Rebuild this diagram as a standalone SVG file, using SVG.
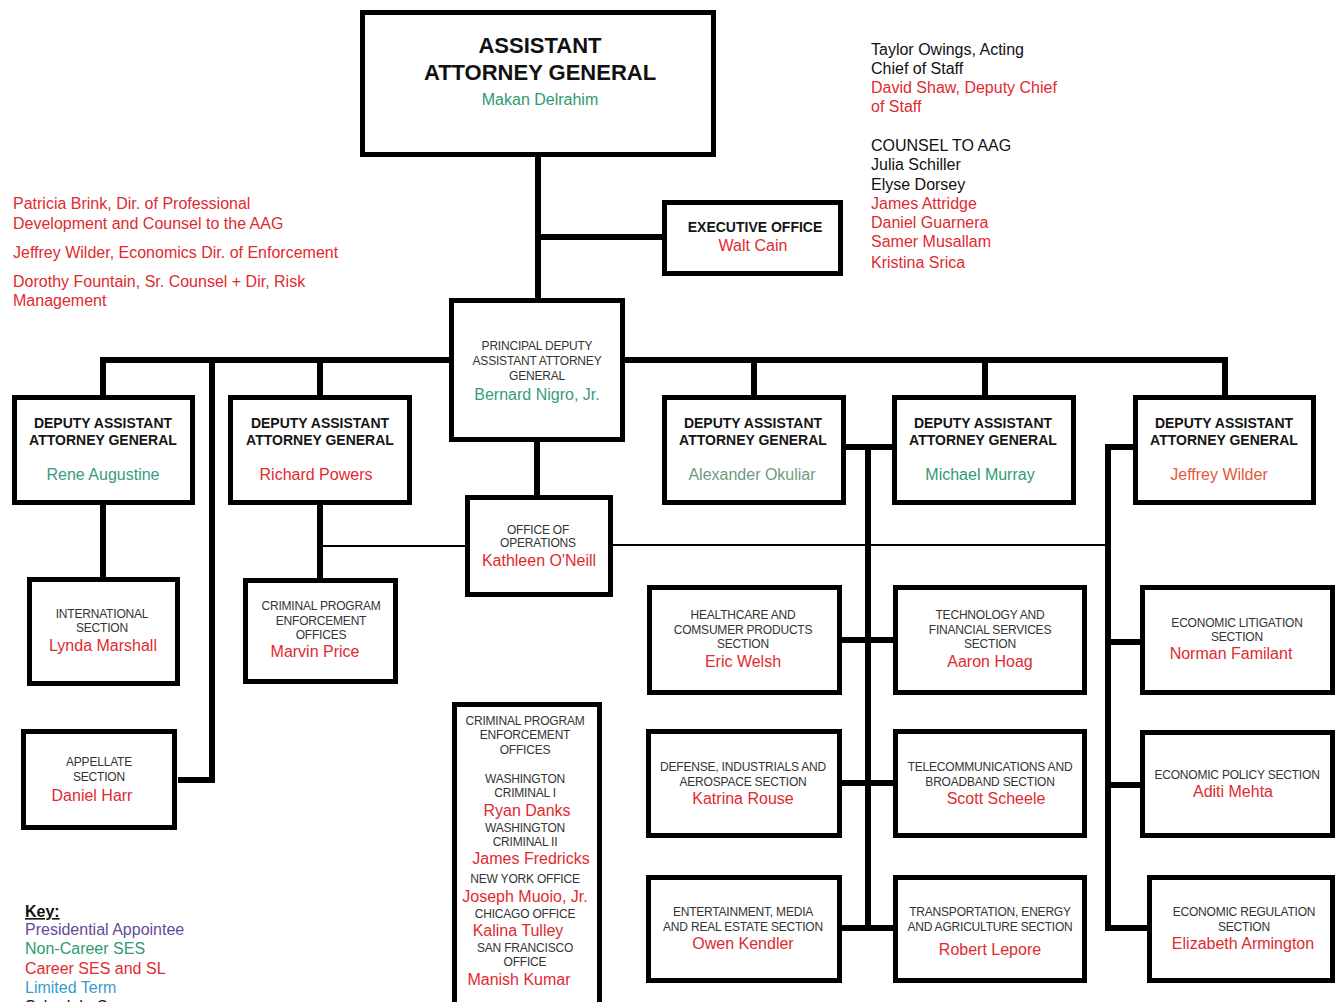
<svg xmlns="http://www.w3.org/2000/svg" width="1337" height="1002" viewBox="0 0 1337 1002">
  <style>
    .box { fill: #fff; stroke: #000; stroke-width: 5; }
    .wire { fill: none; stroke: #000; stroke-width: 6; stroke-linejoin: miter; }
    .thin { fill: none; stroke: #000; stroke-width: 2; }
    text { font-family: "Liberation Sans", Arial, sans-serif; }
    .title { font-size: 22px; font-weight: bold; fill: #111; text-anchor: middle; }
    .cap { font-size: 14px; font-weight: bold; fill: #151515; text-anchor: middle; }
    .sm { font-size: 12px; fill: #333; text-anchor: middle; letter-spacing: -0.2px; }
    .nm { font-size: 16px; text-anchor: middle; }
    .note { font-size: 16px; fill: #111; }
    .red { fill: #df2a30; }
    .grn { fill: #2f9a70; }
    .teal { fill: #3a9a80; }
    .sage { fill: #6e9a80; }
    .orng { fill: #e05a38; }
    .purp { fill: #654a9c; }
    .blue { fill: #3a9bd0; }
  </style>

  <rect width="1337" height="1002" fill="#fff"/>

  <!-- connectors -->
  <g id="connectors">
    <path class="wire" d="M538 157 V298"/>
    <path class="wire" d="M538 237 H662"/>
    <path class="wire" d="M103 395 V360 H449"/>
    <path class="wire" d="M320 360 V395"/>
    <path class="wire" d="M212 360 V780 H178"/>
    <path class="wire" d="M625 360 H1225 V395"/>
    <path class="wire" d="M754 360 V395"/>
    <path class="wire" d="M985 360 V395"/>
    <path class="wire" d="M537 442 V495"/>
    <path class="wire" d="M103 505 V577"/>
    <path class="wire" d="M320 505 V578"/>
    <path class="thin" d="M320 546 H465"/>
    <path class="thin" d="M613 545 H1108"/>
    <path class="wire" d="M846 447 H892"/>
    <path class="wire" d="M868 447 V928"/>
    <path class="wire" d="M842 640 H893"/>
    <path class="wire" d="M842 783 H893"/>
    <path class="wire" d="M842 928 H893"/>
    <path class="wire" d="M1133 447 H1108 V928 H1147"/>
    <path class="wire" d="M1108 642 H1140"/>
    <path class="wire" d="M1108 785 H1140"/>
  </g>

  <!-- top-level office -->
  <g id="aag">
    <rect class="box" x="362.5" y="12.5" width="351" height="142"/>
    <text class="title" x="540" y="53">ASSISTANT</text>
    <text class="title" x="540" y="80">ATTORNEY GENERAL</text>
    <text class="nm grn" x="540" y="105" font-size="20">Makan Delrahim</text>
  </g>

  <g id="executive-office">
    <rect class="box" x="664.5" y="202.5" width="176" height="71"/>
    <text class="cap" x="755" y="232">EXECUTIVE OFFICE</text>
    <text class="nm red" x="753" y="251">Walt Cain</text>
  </g>

  <g id="pdaag">
    <rect class="box" x="451.5" y="300.5" width="171" height="139"/>
    <text class="sm" x="537" y="350">PRINCIPAL DEPUTY</text>
    <text class="sm" x="537" y="365">ASSISTANT ATTORNEY</text>
    <text class="sm" x="537" y="380">GENERAL</text>
    <text class="nm teal" x="537" y="400" font-size="15">Bernard Nigro, Jr.</text>
  </g>

  <g id="office-of-operations">
    <rect class="box" x="467.5" y="497.5" width="143" height="97"/>
    <text class="sm" x="538" y="534">OFFICE OF</text>
    <text class="sm" x="538" y="547">OPERATIONS</text>
    <text class="nm red" x="539" y="566">Kathleen O'Neill</text>
  </g>

  <!-- deputy assistant attorneys general -->
  <g id="daag-augustine">
    <rect class="box" x="14.5" y="397.5" width="178" height="105"/>
    <text class="cap" x="103" y="428">DEPUTY ASSISTANT</text>
    <text class="cap" x="103" y="445">ATTORNEY GENERAL</text>
    <text class="nm teal" x="103" y="480">Rene Augustine</text>
  </g>
  <g id="daag-powers">
    <rect class="box" x="230.5" y="397.5" width="179" height="105"/>
    <text class="cap" x="320" y="428">DEPUTY ASSISTANT</text>
    <text class="cap" x="320" y="445">ATTORNEY GENERAL</text>
    <text class="nm red" x="316" y="480">Richard Powers</text>
  </g>
  <g id="daag-okuliar">
    <rect class="box" x="664.5" y="397.5" width="179" height="105"/>
    <text class="cap" x="753" y="428">DEPUTY ASSISTANT</text>
    <text class="cap" x="753" y="445">ATTORNEY GENERAL</text>
    <text class="nm sage" x="752" y="480">Alexander Okuliar</text>
  </g>
  <g id="daag-murray">
    <rect class="box" x="894.5" y="397.5" width="179" height="105"/>
    <text class="cap" x="983" y="428">DEPUTY ASSISTANT</text>
    <text class="cap" x="983" y="445">ATTORNEY GENERAL</text>
    <text class="nm grn" x="980" y="480">Michael Murray</text>
  </g>
  <g id="daag-wilder">
    <rect class="box" x="1135.5" y="397.5" width="178" height="105"/>
    <text class="cap" x="1224" y="428">DEPUTY ASSISTANT</text>
    <text class="cap" x="1224" y="445">ATTORNEY GENERAL</text>
    <text class="nm orng" x="1219" y="480">Jeffrey Wilder</text>
  </g>

  <!-- sections -->
  <g id="international">
    <rect class="box" x="29.5" y="579.5" width="148" height="104"/>
    <text class="sm" x="102" y="618">INTERNATIONAL</text>
    <text class="sm" x="102" y="632">SECTION</text>
    <text class="nm red" x="103" y="651">Lynda Marshall</text>
  </g>
  <g id="cpeo-price">
    <rect class="box" x="245.5" y="580.5" width="150" height="101"/>
    <text class="sm" x="321" y="610">CRIMINAL PROGRAM</text>
    <text class="sm" x="321" y="625">ENFORCEMENT</text>
    <text class="sm" x="321" y="639">OFFICES</text>
    <text class="nm red" x="315" y="657">Marvin Price</text>
  </g>
  <g id="appellate">
    <rect class="box" x="23.5" y="731.5" width="151" height="96"/>
    <text class="sm" x="99" y="766">APPELLATE</text>
    <text class="sm" x="99" y="781">SECTION</text>
    <text class="nm red" x="92" y="801">Daniel Harr</text>
  </g>

  <g id="cpeo-offices">
    <rect class="box" x="454.5" y="704.5" width="145" height="312"/>
    <text class="sm" x="525" y="725">CRIMINAL PROGRAM</text>
    <text class="sm" x="525" y="739">ENFORCEMENT</text>
    <text class="sm" x="525" y="754">OFFICES</text>
    <text class="sm" x="525" y="783">WASHINGTON</text>
    <text class="sm" x="525" y="797">CRIMINAL I</text>
    <text class="nm red" x="527" y="816">Ryan Danks</text>
    <text class="sm" x="525" y="832">WASHINGTON</text>
    <text class="sm" x="525" y="846">CRIMINAL II</text>
    <text class="nm red" x="531" y="864">James Fredricks</text>
    <text class="sm" x="525" y="883">NEW YORK OFFICE</text>
    <text class="nm red" x="525" y="902">Joseph Muoio, Jr.</text>
    <text class="sm" x="525" y="918">CHICAGO OFFICE</text>
    <text class="nm red" x="518" y="936">Kalina Tulley</text>
    <text class="sm" x="525" y="952">SAN FRANCISCO</text>
    <text class="sm" x="525" y="966">OFFICE</text>
    <text class="nm red" x="519" y="985">Manish Kumar</text>
  </g>

  <g id="healthcare">
    <rect class="box" x="649.5" y="587.5" width="190" height="105"/>
    <text class="sm" x="743" y="619">HEALTHCARE AND</text>
    <text class="sm" x="743" y="634">COMSUMER PRODUCTS</text>
    <text class="sm" x="743" y="648">SECTION</text>
    <text class="nm red" x="743" y="667">Eric Welsh</text>
  </g>
  <g id="technology">
    <rect class="box" x="895.5" y="587.5" width="189" height="105"/>
    <text class="sm" x="990" y="619">TECHNOLOGY AND</text>
    <text class="sm" x="990" y="634">FINANCIAL SERVICES</text>
    <text class="sm" x="990" y="648">SECTION</text>
    <text class="nm red" x="990" y="667">Aaron Hoag</text>
  </g>
  <g id="defense">
    <rect class="box" x="648.5" y="731.5" width="191" height="104"/>
    <text class="sm" x="743" y="771">DEFENSE, INDUSTRIALS AND</text>
    <text class="sm" x="743" y="786">AEROSPACE SECTION</text>
    <text class="nm red" x="743" y="804">Katrina Rouse</text>
  </g>
  <g id="telecom">
    <rect class="box" x="895.5" y="731.5" width="189" height="104"/>
    <text class="sm" x="990" y="771">TELECOMMUNICATIONS AND</text>
    <text class="sm" x="990" y="786">BROADBAND SECTION</text>
    <text class="nm red" x="996" y="804">Scott Scheele</text>
  </g>
  <g id="entertainment">
    <rect class="box" x="648.5" y="877.5" width="191" height="103"/>
    <text class="sm" x="743" y="916">ENTERTAINMENT, MEDIA</text>
    <text class="sm" x="743" y="931">AND REAL ESTATE SECTION</text>
    <text class="nm red" x="743" y="949">Owen Kendler</text>
  </g>
  <g id="transportation">
    <rect class="box" x="895.5" y="877.5" width="189" height="103"/>
    <text class="sm" x="990" y="916">TRANSPORTATION, ENERGY</text>
    <text class="sm" x="990" y="931">AND AGRICULTURE SECTION</text>
    <text class="nm red" x="990" y="955">Robert Lepore</text>
  </g>
  <g id="economic-litigation">
    <rect class="box" x="1142.5" y="587.5" width="190" height="105"/>
    <text class="sm" x="1237" y="627">ECONOMIC LITIGATION</text>
    <text class="sm" x="1237" y="641">SECTION</text>
    <text class="nm red" x="1231" y="659">Norman Familant</text>
  </g>
  <g id="economic-policy">
    <rect class="box" x="1142.5" y="732.5" width="190" height="103"/>
    <text class="sm" x="1237" y="779">ECONOMIC POLICY SECTION</text>
    <text class="nm red" x="1233" y="797">Aditi Mehta</text>
  </g>
  <g id="economic-regulation">
    <rect class="box" x="1149.5" y="877.5" width="183" height="103"/>
    <text class="sm" x="1244" y="916">ECONOMIC REGULATION</text>
    <text class="sm" x="1244" y="931">SECTION</text>
    <text class="nm red" x="1243" y="949">Elizabeth Armington</text>
  </g>

  <!-- staff listed beside the chart -->
  <g id="front-office-left">
    <text class="note red" x="13" y="209">Patricia Brink, Dir. of Professional</text>
    <text class="note red" x="13" y="229">Development and Counsel to the AAG</text>
    <text class="note red" x="13" y="258">Jeffrey Wilder, Economics Dir. of Enforcement</text>
    <text class="note red" x="13" y="287">Dorothy Fountain, Sr. Counsel + Dir, Risk</text>
    <text class="note red" x="13" y="306">Management</text>
  </g>
  <g id="front-office-right">
    <text class="note" x="871" y="55">Taylor Owings, Acting</text>
    <text class="note" x="871" y="74">Chief of Staff</text>
    <text class="note red" x="871" y="93">David Shaw, Deputy Chief</text>
    <text class="note red" x="871" y="112">of Staff</text>
    <text class="note" x="871" y="151">COUNSEL TO AAG</text>
    <text class="note" x="871" y="170">Julia Schiller</text>
    <text class="note" x="871" y="190">Elyse Dorsey</text>
    <text class="note red" x="871" y="209">James Attridge</text>
    <text class="note red" x="871" y="228">Daniel Guarnera</text>
    <text class="note red" x="871" y="247">Samer Musallam</text>
    <text class="note red" x="871" y="268">Kristina Srica</text>
  </g>

  <!-- colour key -->
  <g id="key">
    <text class="note" x="25" y="917" font-weight="bold" text-decoration="underline">Key:</text>
    <text class="note purp" x="25" y="935">Presidential Appointee</text>
    <text class="note grn" x="25" y="954">Non-Career SES</text>
    <text class="note red" x="25" y="974">Career SES and SL</text>
    <text class="note blue" x="25" y="993">Limited Term</text>
    <text class="note" x="25" y="1012">Schedule C</text>
  </g>
</svg>
